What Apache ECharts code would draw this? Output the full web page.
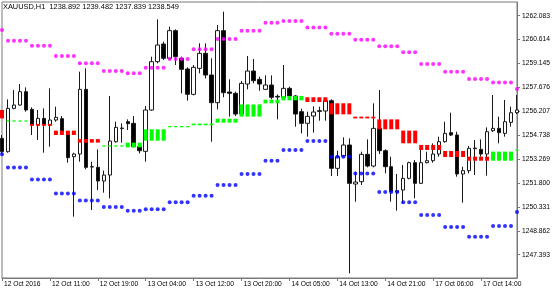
<!DOCTYPE html>
<html><head><meta charset="utf-8">
<script src="https://cdn.jsdelivr.net/npm/echarts@6/dist/echarts.min.js"></script>
<style>html,body{margin:0;padding:0;background:#fff}#c{width:560px;height:294px}</style>
</head><body><div id="c"></div>
<script>
const titleText = 'XAUUSD,H1  1238.892 1239.482 1237.839 1238.549';
const barTimes = [
'12 Oct 03:00','12 Oct 04:00','12 Oct 05:00','12 Oct 06:00','12 Oct 07:00','12 Oct 08:00','12 Oct 09:00','12 Oct 10:00','12 Oct 11:00','12 Oct 12:00',
'12 Oct 13:00','12 Oct 14:00','12 Oct 15:00','12 Oct 16:00','12 Oct 17:00','12 Oct 18:00','12 Oct 19:00','12 Oct 20:00','12 Oct 21:00','12 Oct 22:00',
'12 Oct 23:00','13 Oct 01:00','13 Oct 02:00','13 Oct 03:00','13 Oct 04:00','13 Oct 05:00','13 Oct 06:00','13 Oct 07:00','13 Oct 08:00','13 Oct 09:00',
'13 Oct 10:00','13 Oct 11:00','13 Oct 12:00','13 Oct 13:00','13 Oct 14:00','13 Oct 15:00','13 Oct 16:00','13 Oct 17:00','13 Oct 18:00','13 Oct 19:00',
'13 Oct 20:00','13 Oct 21:00','13 Oct 22:00','13 Oct 23:00','14 Oct 01:00','14 Oct 02:00','14 Oct 03:00','14 Oct 04:00','14 Oct 05:00','14 Oct 06:00',
'14 Oct 07:00','14 Oct 08:00','14 Oct 09:00','14 Oct 10:00','14 Oct 11:00','14 Oct 12:00','14 Oct 13:00','14 Oct 14:00','14 Oct 15:00','14 Oct 16:00',
'14 Oct 17:00','14 Oct 18:00','14 Oct 19:00','14 Oct 20:00','14 Oct 21:00','14 Oct 22:00','14 Oct 23:00','17 Oct 01:00','17 Oct 02:00','17 Oct 03:00',
'17 Oct 04:00','17 Oct 05:00','17 Oct 06:00','17 Oct 07:00','17 Oct 08:00','17 Oct 09:00','17 Oct 10:00','17 Oct 11:00','17 Oct 12:00','17 Oct 13:00',
'17 Oct 14:00','17 Oct 15:00','17 Oct 16:00','17 Oct 17:00','17 Oct 18:00','17 Oct 19:00','17 Oct 20:00'];
const xTickLabels = ['12 Oct 2016','12 Oct 11:00','12 Oct 19:00','13 Oct 04:00','13 Oct 12:00','13 Oct 20:00','14 Oct 05:00','14 Oct 13:00','14 Oct 21:00','17 Oct 06:00','17 Oct 14:00'];
const yTickLabels = ['1262.083','1260.614','1259.145','1257.676','1256.207','1254.738','1253.269','1251.800','1250.331','1248.862','1247.393'];

const opens = [1254.544,1253.725,1256.388,1256.593,1257.413,1256.327,1255.364,1255.774,1255.364,1255.671,
1255.753,1254.749,1253.417,1253.581,1257.556,1252.803,1252.762,1251.922,1252.290,1254.339,
1255.139,1255.569,1255.467,1254.032,1253.745,1256.286,1259.257,1260.343,1259.462,1261.163,
1259.462,1258.806,1257.249,1258.847,1259.770,1258.437,1256.737,1261.163,1257.392,1257.310,
1256.040,1257.884,1258.683,1258.171,1257.556,1257.823,1257.126,1257.065,1257.618,1257.147,
1256.184,1255.467,1255.917,1256.245,1256.225,1256.860,1252.700,1253.458,1254.135,1251.737,
1251.881,1253.561,1252.844,1255.159,1253.786,1252.803,1251.245,1251.368,1252.085,1253.049,
1251.778,1253.049,1253.172,1253.581,1254.339,1254.893,1254.749,1252.352,1252.557,1253.909,
1253.868,1253.581,1255.016,1255.159,1254.852,1255.528,1256.122];
const highs = [1254.749,1256.942,1257.515,1257.884,1257.679,1256.450,1256.286,1256.388,1257.618,1256.491,
1255.917,1254.852,1253.663,1258.642,1258.847,1253.110,1253.868,1252.557,1257.147,1255.569,
1255.467,1255.712,1255.917,1254.135,1256.532,1259.564,1261.859,1260.486,1261.409,1261.245,
1259.564,1258.909,1259.052,1260.384,1260.384,1259.462,1261.511,1262.331,1258.171,1257.413,
1258.069,1259.605,1259.421,1258.335,1258.417,1258.417,1257.249,1259.052,1257.720,1257.208,
1256.368,1256.184,1256.511,1256.491,1257.003,1256.942,1253.786,1254.606,1254.544,1252.495,
1253.725,1254.483,1256.696,1257.515,1253.868,1253.417,1252.352,1252.905,1253.110,1253.212,
1253.827,1253.725,1254.237,1254.647,1255.569,1256.122,1254.954,1252.803,1254.073,1254.442,
1254.483,1255.221,1257.208,1255.876,1256.901,1256.491,1257.208];
const lows = [1253.581,1253.663,1256.327,1256.552,1256.184,1254.749,1254.442,1253.663,1254.032,1255.569,
1254.852,1253.049,1249.729,1253.110,1252.639,1250.139,1251.368,1251.205,1250.856,1254.278,
1254.278,1255.057,1253.991,1253.622,1253.110,1256.245,1259.155,1259.360,1259.401,1259.052,
1257.310,1256.860,1257.187,1258.540,1258.233,1254.339,1256.327,1257.065,1255.876,1255.917,
1255.979,1257.556,1257.925,1257.474,1257.515,1256.942,1255.712,1257.003,1257.065,1255.262,
1254.852,1254.647,1254.893,1255.630,1255.630,1252.229,1252.229,1253.417,1246.246,1250.651,
1251.676,1252.762,1252.762,1253.581,1252.393,1250.651,1250.098,1250.549,1252.024,1250.856,
1251.737,1253.008,1253.049,1253.417,1254.278,1254.688,1252.188,1250.590,1252.393,1252.290,
1253.417,1252.249,1254.934,1254.237,1254.647,1255.262,1256.040];
const closes = [1253.725,1256.388,1256.593,1257.413,1256.286,1255.364,1255.774,1255.364,1255.671,1255.835,
1254.954,1253.356,1253.581,1257.556,1252.762,1252.782,1251.922,1252.290,1254.380,1255.221,
1255.180,1255.446,1254.032,1253.786,1256.286,1259.257,1260.282,1259.462,1261.163,1259.564,
1258.786,1257.249,1258.909,1259.770,1258.437,1256.737,1261.163,1257.351,1257.310,1256.040,
1257.925,1258.683,1258.089,1257.884,1257.823,1257.065,1257.085,1257.618,1257.147,1256.040,
1255.467,1255.897,1256.163,1256.204,1256.860,1252.700,1253.417,1254.135,1251.778,1251.860,
1253.561,1252.844,1255.159,1253.786,1252.803,1251.266,1251.327,1252.085,1253.049,1251.778,
1253.049,1253.172,1253.581,1254.339,1254.852,1254.749,1252.352,1252.557,1253.930,1253.950,
1253.581,1254.954,1255.159,1254.893,1255.569,1256.122,1256.286];

const upperBand = [1261.20,
1260.55,1260.55,1260.55,1260.55, 1260.24,1260.24,1260.24,1260.24, 1259.61,1259.61,1259.61,1259.61,
1259.16,1259.16,1259.16,1259.16, 1258.68,1258.68,1258.68,1258.68, 1258.54,1258.54,1258.54,
1258.89,1258.89,1258.89,1258.89, 1259.42,1259.42,1259.42,1259.42, 1260.02,1260.02,1260.02,1260.02,
1260.65,1260.65,1260.65,1260.65, 1261.16,1261.16,1261.16,1261.16, 1261.65,1261.65,1261.65,
1261.76,1261.76,1261.76,1261.76, 1261.35,1261.35,1261.35,1261.35, 1260.98,1260.98,1260.98,1260.98,
1260.61,1260.61,1260.61,1260.61, 1260.20,1260.20,1260.20,1260.20, 1259.83,1259.83,1259.83,
1259.11,1259.11,1259.11,1259.11, 1258.64,1258.64,1258.64,1258.64, 1258.19,1258.19,1258.19,1258.19,
1257.97,1257.97,1257.97,1257.97, 1257.58];
const lowerBand = [1253.56,
1252.76,1252.76,1252.76,1252.76, 1252.02,1252.02,1252.02,1252.02, 1251.16,1251.16,1251.16,1251.16,
1250.73,1250.73,1250.73,1250.73, 1250.32,1250.32,1250.32,1250.32, 1250.10,1250.10,1250.10,
1250.18,1250.18,1250.18,1250.18, 1250.61,1250.61,1250.61,1250.61, 1251.02,1251.02,1251.02,1251.02,
1251.68,1251.68,1251.68,1251.68, 1252.35,1252.35,1252.35,1252.35, 1253.17,1253.17,1253.17,
1253.83,1253.83,1253.83,1253.83, 1254.38,1254.38,1254.38,1254.38, 1253.42,1253.42,1253.42,1253.42,
1252.39,1252.39,1252.39,1252.39, 1251.25,1251.25,1251.25,1251.25, 1250.61,1250.61,1250.61,
1249.83,1249.83,1249.83,1249.83, 1249.09,1249.09,1249.09,1249.09, 1248.50,1248.50,1248.50,1248.50,
1249.16,1249.16,1249.16,1249.16, 1250.02];
const midUpper = [1256.29,
1255.62,1255.62,1255.62,1255.62, 1255.43,1255.43,1255.43,1255.43, 1255.02,1255.02,1255.02,1255.02,
1254.50,1254.50,1254.50,1254.50, 1254.08,1254.08,1254.08,1254.08, 1254.28,1254.28,1254.28,
1255.10,1255.10,1255.10,1255.10, 1255.27,1255.27,1255.27,1255.27, 1255.45,1255.45,1255.45,1255.45,
1255.75,1255.75,1255.75,1255.75, 1256.63,1256.63,1256.63,1256.63, 1256.92,1256.92,1256.92,
1257.15,1257.15,1257.15,1257.15, 1257.07,1257.07,1257.07,1257.07, 1256.70,1256.70,1256.70,1256.70,
1255.88,1255.88,1255.88,1255.88, 1255.71,1255.71,1255.71,1255.71, 1255.02,1255.02,1255.02,
1254.14,1254.14,1254.14,1254.14, 1253.77,1253.77,1253.77,1253.77, 1253.42,1253.42,1253.42,1253.42,
1253.73,1253.73,1253.73,1253.73, 1253.83];
const midLower = [1255.77,
1255.60,1255.60,1255.60,1255.60, 1255.32,1255.32,1255.32,1255.32, 1254.75,1254.75,1254.75,1254.75,
1254.28,1254.28,1254.28,1254.28, 1254.07,1254.07,1254.07,1254.07, 1253.99,1253.99,1253.99,
1254.40,1254.40,1254.40,1254.40, 1255.26,1255.26,1255.26,1255.26, 1255.35,1255.35,1255.35,1255.35,
1255.51,1255.51,1255.51,1255.51, 1255.88,1255.88,1255.88,1255.88, 1256.70,1256.70,1256.70,
1256.88,1256.88,1256.88,1256.88, 1256.78,1256.78,1256.78,1256.78, 1256.02,1256.02,1256.02,1256.02,
1255.77,1255.77,1255.77,1255.77, 1255.10,1255.10,1255.10,1255.10, 1254.24,1254.24,1254.24,
1253.83,1253.83,1253.83,1253.83, 1253.40,1253.40,1253.40,1253.40, 1253.17,1253.17,1253.17,1253.17,
1253.17,1253.17,1253.17,1253.17, 1253.82];
const midTrend = [-1,
1,1,1,1, -1,-1,-1,-1, -1,-1,-1,-1,
-1,-1,-1,-1, 1,1,1,1, 1,1,1,
1,1,1,1, 1,1,1,1, 1,1,1,1,
1,1,1,1, 1,1,1,1, 1,1,1,
1,1,1,1, -1,-1,-1,-1, -1,-1,-1,-1,
-1,-1,-1,-1, -1,-1,-1,-1, -1,-1,-1,
-1,-1,-1,-1, -1,-1,-1,-1, -1,-1,-1,-1,
1,1,1,1, 1];

const FONT = 'Liberation Sans';
const AXIS = '#7a7a7a';
const yTickValues = yTickLabels.map(Number);

const chart = echarts.init(document.getElementById('c'), null, {renderer: 'canvas'});
chart.setOption({
  animation: false,
  backgroundColor: '#ffffff',
  grid: {left: 2, right: 43, top: 2, bottom: 16, show: true, borderColor: AXIS, borderWidth: 1, containLabel: false},
  graphic: [{type: 'text', left: 3, top: 3, z: 100,
    style: {text: titleText, fill: '#000', font: '7.4px "' + FONT + '"'}}],
  xAxis: {
    type: 'category', data: barTimes, boundaryGap: false,
    axisLine: {show: true, lineStyle: {color: AXIS, width: 1}},
    axisTick: {show: true, interval: 7, length: 3, lineStyle: {color: AXIS}},
    axisLabel: {interval: 7, align: 'left', margin: 3, padding: [0, 0, 0, 2],
      fontFamily: FONT, fontSize: 6.7, color: '#000',
      formatter: (v, i) => xTickLabels[Math.round(i / 8)] || ''},
    splitLine: {show: false}
  },
  yAxis: {
    type: 'value', position: 'right', min: 1245.961, max: 1262.925, scale: true,
    axisLine: {show: true, lineStyle: {color: AXIS, width: 1}},
    axisTick: {show: true, length: 3, customValues: yTickValues, lineStyle: {color: AXIS}},
    axisLabel: {customValues: yTickValues, margin: 5, fontFamily: FONT, fontSize: 6.7, color: '#000',
      formatter: v => { const k = yTickValues.findIndex(t => Math.abs(t - v) < 1e-6); return k >= 0 ? yTickLabels[k] : ''; }},
    splitLine: {show: false}
  },
  series: [
    {
      type: 'candlestick', barWidth: 4, clip: false,
      data: opens.map((o, i) => [o, closes[i], lows[i], highs[i]]),
      itemStyle: {color: '#ffffff', color0: '#000000', borderColor: '#1a1a1a', borderColor0: '#1a1a1a', borderWidth: 1}
    },
    {
      type: 'custom', clip: false, z: 5,
      data: midUpper.map((u, i) => [i, u, midLower[i], midTrend[i]]),
      renderItem: (params, api) => {
        const i = api.value(0);
        const p1 = api.coord([i, api.value(1)]);
        const p2 = api.coord([i, api.value(2)]);
        let top = Math.min(p1[1], p2[1]);
        let h = Math.abs(p2[1] - p1[1]);
        let w = 4;
        if (h < 1.3) { top = (p1[1] + p2[1]) / 2 - 0.65; h = 1.3; w = 3; }
        return {type: 'rect', shape: {x: p1[0] - w / 2, y: top, width: w, height: h},
          style: {fill: api.value(3) > 0 ? '#00ff00' : '#ff0000'}};
      }
    },
    {
      type: 'scatter', symbol: 'circle', symbolSize: 4, z: 6,
      data: upperBand.map((v, i) => [i, v]),
      itemStyle: {color: '#ff00ff'}
    },
    {
      type: 'scatter', symbol: 'circle', symbolSize: 4, z: 6,
      data: lowerBand.map((v, i) => [i, v]),
      itemStyle: {color: '#0000ff'}
    }
  ]
});
</script></body></html>
